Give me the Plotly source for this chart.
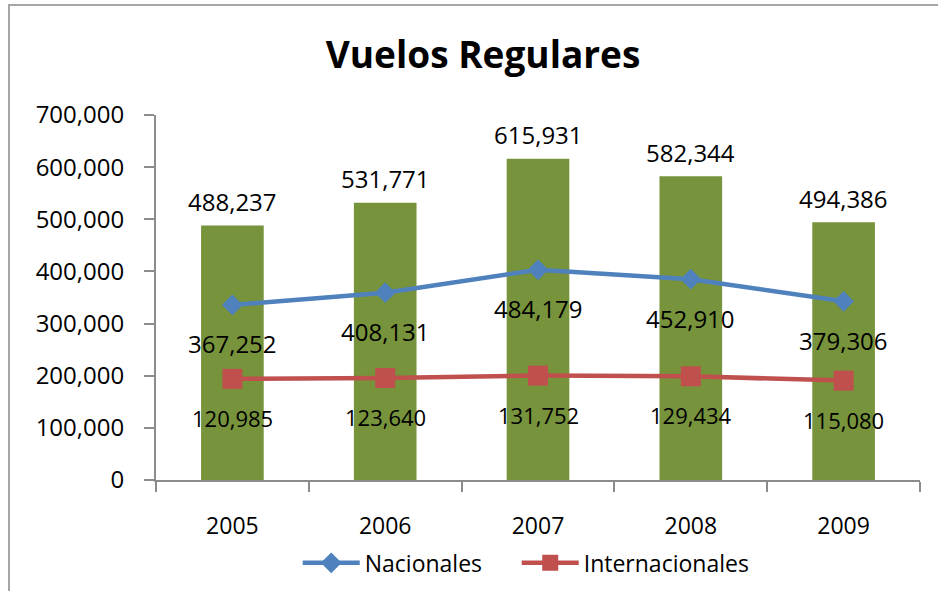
import plotly.graph_objects as go

years = ["2005", "2006", "2007", "2008", "2009"]
totales = [488237, 531771, 615931, 582344, 494386]
nacionales = [367252, 408131, 484179, 452910, 379306]
internacionales = [120985, 123640, 131752, 129434, 115080]

FONT = "Open Sans"
fig = go.Figure()

fig.add_trace(go.Bar(
    x=years, y=totales, name="Total", showlegend=False,
    marker=dict(color="#77933C", line=dict(width=0)),
    width=0.41, hoverinfo="skip",
))
fig.add_trace(go.Scatter(
    x=years, y=nacionales, name="Nacionales", yaxis="y2",
    mode="lines+markers", legendwidth=147,
    line=dict(color="#4F81BD", width=4.5),
    marker=dict(symbol="diamond", size=16, color="#4F81BD"),
))
fig.add_trace(go.Scatter(
    x=years, y=internacionales, name="Internacionales", yaxis="y2",
    mode="lines+markers", legendwidth=185,
    line=dict(color="#C0504D", width=4.5),
    marker=dict(symbol="square", size=20, color="#C0504D"),
))

annotations = []
for i, v in enumerate(totales):
    annotations.append(dict(x=i, y=v, xref="x", yref="y", text=f"{v:,}",
                            showarrow=False, yshift=24,
                            font=dict(family=FONT, size=24, color="black")))
for i, v in enumerate(nacionales):
    annotations.append(dict(x=i, y=v, xref="x", yref="y2", text=f"{v:,}",
                            showarrow=False, yshift=-39,
                            font=dict(family=FONT, size=24, color="black")))
for i, v in enumerate(internacionales):
    annotations.append(dict(x=i, y=v, xref="x", yref="y2", text=f"{v:,}",
                            showarrow=False, yshift=-39,
                            font=dict(family=FONT, size=22, color="black")))

fig.update_layout(
    width=938, height=591,
    margin=dict(l=156, r=18, t=115, b=111, autoexpand=False),
    paper_bgcolor="white", plot_bgcolor="white",
    title=dict(text="<b>Vuelos Regulares</b>", x=0.515, xref="container",
               y=1 - 55 / 591, yanchor="middle", xanchor="center",
               font=dict(family=FONT, size=37, color="black")),
    xaxis=dict(type="category", categoryorder="array", categoryarray=years,
               range=[-0.5, len(years) - 0.5], autorange=False, automargin=False,
               showline=True, linecolor="#8c8c8c", linewidth=2,
               ticks="outside", tickson="boundaries", ticklen=10, tickcolor="#8c8c8c",
               tickwidth=2, ticklabelstandoff=24, showgrid=False,
               tickfont=dict(family=FONT, size=23, color="black")),
    yaxis=dict(range=[0, 700000], autorange=False, automargin=False,
               dtick=100000, tickformat=",d",
               showline=True, linecolor="#8c8c8c", linewidth=2,
               ticks="outside", ticklen=10, tickcolor="#8c8c8c", tickwidth=2,
               ticklabelstandoff=15, showgrid=False, zeroline=False,
               tickfont=dict(family=FONT, size=24, color="black")),
    yaxis2=dict(range=[-216000, 1000000], autorange=False, overlaying="y", side="right",
                visible=False, showgrid=False),
    bargap=0.59,
    legend=dict(orientation="h", x=0.1855, xanchor="left", y=-0.227, yanchor="middle",
                font=dict(family=FONT, size=23, color="black"),
                itemwidth=57, tracegroupgap=0),
    annotations=annotations,
    shapes=[dict(type="rect", xref="paper", yref="paper",
                 x0=-0.1924, x1=1.2, y0=-1.0, y1=1.3014,
                 line=dict(color="#a6a6a6", width=2), fillcolor="rgba(0,0,0,0)",
                 layer="below")],
)

fig.write_html("out.html", config={"displayModeBar": False},
               post_script="document.body.style.margin='0';")
